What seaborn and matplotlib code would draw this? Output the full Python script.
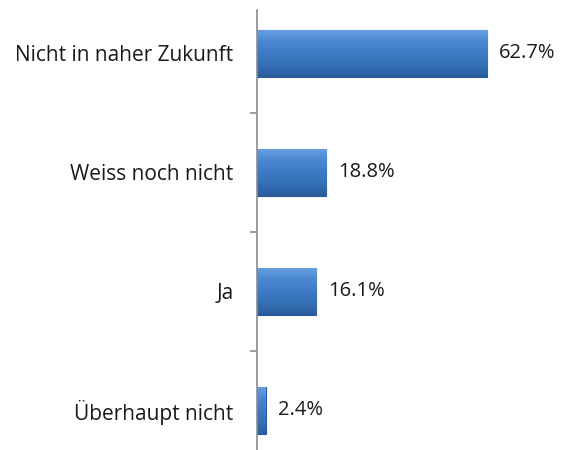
import matplotlib
matplotlib.use("Agg")
import matplotlib.pyplot as plt
import seaborn as sns
import numpy as np
import pandas as pd
from matplotlib.colors import LinearSegmentedColormap

categories = ["Nicht in naher Zukunft", "Weiss noch nicht", "Ja", "Überhaupt nicht"]
values = [62.7, 18.8, 16.1, 2.4]
value_labels = ["62.7%", "18.8%", "16.1%", "2.4%"]

df = pd.DataFrame({"cat": categories, "val": values})

sns.set_style("white")
plt.rcParams['font.family'] = ['Open Sans', 'DejaVu Sans']

W, H = 563, 450
fig = plt.figure(figsize=(W / 100, H / 100), dpi=100)
# axes: left at x=257, right at 551; top at y=10, bottom at 450
ax = fig.add_axes([257 / W, 0 / H, (551 - 257) / W, (450 - 10) / H])

sns.barplot(data=df, y="cat", x="val", orient="h", ax=ax, width=0.40,
            color="#3E7BC4", edgecolor="#2C5C98", linewidth=0.8, saturation=1)

ax.set_xlim(0, 80)
ax.set_ylim(3.332, -0.3655)

# gradient overlay
cmap = LinearSegmentedColormap.from_list("g", ["#6AA0E0", "#4A88D2", "#3E7BC4", "#3470B6", "#2A5C9C"])
grad = np.linspace(0, 1, 100).reshape(-1, 1)
for p in ax.patches:
    x0, y0 = p.get_x(), p.get_y()
    w, h = p.get_width(), p.get_height()
    im = ax.imshow(grad, aspect="auto", cmap=cmap,
                   extent=[x0, x0 + w, y0 + h, y0], origin="upper", zorder=p.get_zorder() + 0.1)
    im.set_clip_path(p)

ax.set_xlim(0, 80)
ax.set_ylim(3.332, -0.3655)

for i, p in enumerate(ax.patches):
    ax.text(p.get_width() + 3.2, p.get_y() + p.get_height() / 2, value_labels[i],
            va="center", ha="left", fontsize=14.5, color="#1a1a1a")

ax.set_xlabel("")
ax.set_ylabel("")
ax.set_xticks([])
ax.set_yticks(range(len(categories)))
ax.set_yticklabels(categories, fontsize=15, color="#1a1a1a")
ax.tick_params(axis="y", which="major", left=False, length=0, pad=17)
ax.set_yticks([0.5, 1.5, 2.5], minor=True)
ax.tick_params(axis="y", which="minor", left=True, length=5, width=1.2,
               color="#8c8c8c", direction="out")

for s in ["top", "right", "bottom"]:
    ax.spines[s].set_visible(False)
ax.spines["left"].set_color("#8c8c8c")
ax.spines["left"].set_linewidth(1.2)
ax.patch.set_alpha(0)

fig.savefig("out.png", dpi=100)
